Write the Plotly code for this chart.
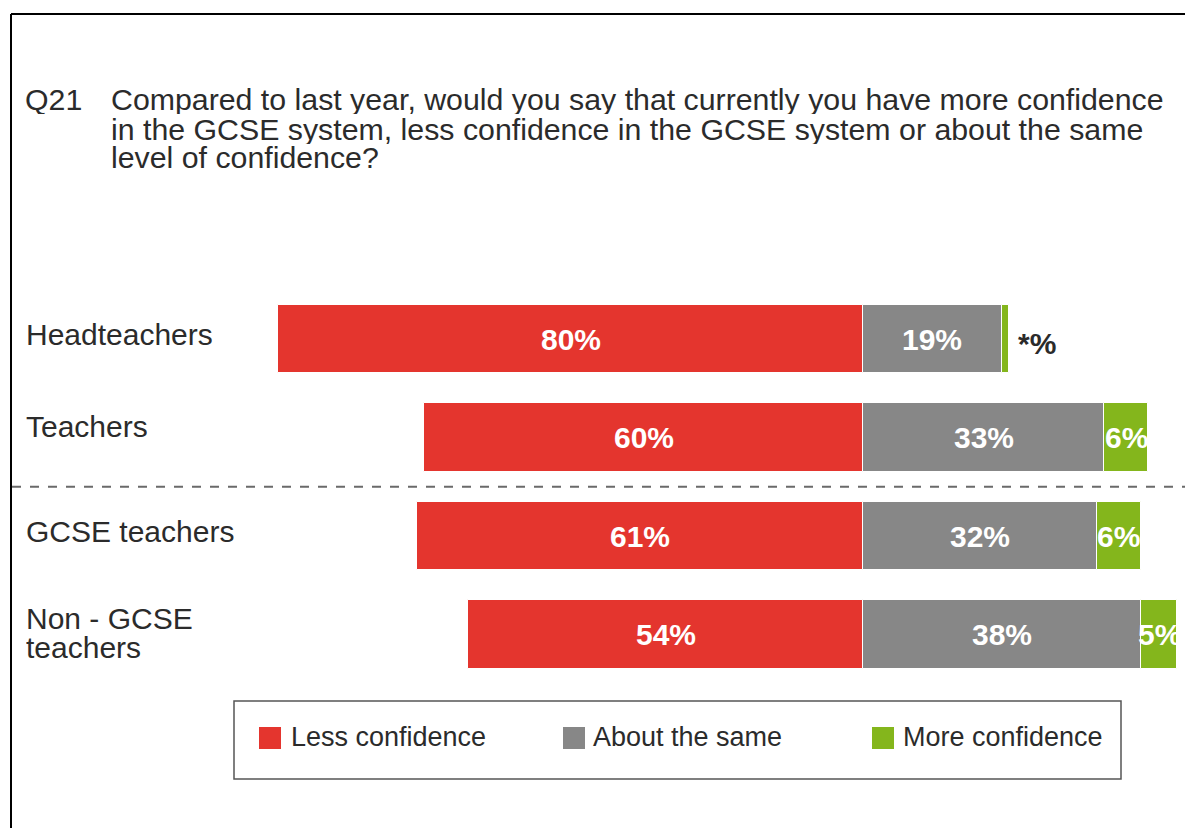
import plotly.graph_objects as go

# Survey groups (top to bottom) and response shares in percent
groups = ["Headteachers", "Teachers", "GCSE teachers", "Non - GCSE teachers"]
less_confidence = [80, 60, 61, 54]
about_same = [19, 33, 32, 38]
more_confidence = [1, 6, 6, 5]
more_labels = ["*%", "6%", "6%", "5%"]

series_names = ["Less confidence", "About the same", "More confidence"]
colors = ["#E4352E", "#878787", "#84B61C"]

FONT = "Liberation Sans, Arial, sans-serif"
TEXT = "#2b2b2b"
W, H = 1185, 828

ypos = list(range(len(groups)))

fig = go.Figure()
fig.add_trace(go.Bar(y=ypos, x=[-v for v in less_confidence], orientation="h",
                     name=series_names[0], marker=dict(color=colors[0], line=dict(color="white", width=1)),
                     width=0.70, showlegend=False, hoverinfo="skip"))
fig.add_trace(go.Bar(y=ypos, x=about_same, orientation="h",
                     name=series_names[1], marker=dict(color=colors[1], line=dict(color="white", width=1)),
                     width=0.70, showlegend=False, hoverinfo="skip"))
fig.add_trace(go.Bar(y=ypos, x=more_confidence, orientation="h",
                     name=series_names[2], marker=dict(color=colors[2], line=dict(color="white", width=1)),
                     width=0.70, showlegend=False, hoverinfo="skip"))

ann = []
# value labels centred in each segment
for i in ypos:
    l, a, m = less_confidence[i], about_same[i], more_confidence[i]
    ann.append(dict(x=-l / 2, y=i, xref="x", yref="y", text=f"<b>{l}%</b>", showarrow=False,
                    font=dict(family=FONT, size=30, color="white")))
    ann.append(dict(x=a / 2, y=i, xref="x", yref="y", text=f"<b>{a}%</b>", showarrow=False,
                    font=dict(family=FONT, size=30, color="white")))
    if more_labels[i].startswith("*"):
        ann.append(dict(x=a + m, y=i, xref="x", yref="y", text=f"<b>{more_labels[i]}</b>", showarrow=False,
                        xanchor="left", xshift=7, yshift=-4,
                        font=dict(family=FONT, size=30, color=TEXT)))
    else:
        ann.append(dict(x=a + m / 2, y=i, xref="x", yref="y", text=f"<b>{more_labels[i]}</b>",
                        showarrow=False, font=dict(family=FONT, size=30, color="white")))

# group labels on the left (the last one wraps onto two tight lines)
label_lines = [[("Headteachers", 5)], [("Teachers", 11)], [("GCSE teachers", 5)],
               [("Non - GCSE", 16), ("teachers", -13)]]
for i, lines in enumerate(label_lines):
    for txt, dy in lines:
        ann.append(dict(x=24 / W, y=i, xref="paper", yref="y", text=txt, showarrow=False,
                        xanchor="left", yshift=dy, height=29, valign="middle",
                        font=dict(family=FONT, size=30, color=TEXT)))

# question text
ann.append(dict(x=23 / W, y=1 - 100 / H, xref="paper", yref="paper", text="Q21", showarrow=False,
                xanchor="left", yanchor="middle", height=29,
                font=dict(family=FONT, size=30.3, color=TEXT)))
question = ["Compared to last year, would you say that currently you have more confidence",
            "in the GCSE system, less confidence in the GCSE system or about the same",
            "level of confidence?"]
for k, line in enumerate(question):
    ann.append(dict(x=109 / W, y=1 - (100 + 29 * k) / H, xref="paper", yref="paper", text=line,
                    showarrow=False, xanchor="left", yanchor="middle", height=29,
                    font=dict(family=FONT, size=30.3, color=TEXT)))

shapes = []
# outer frame (top and left edges)
shapes.append(dict(type="line", xref="paper", yref="paper", x0=11 / W, x1=1, y0=1 - 14 / H, y1=1 - 14 / H,
                   line=dict(color="black", width=2)))
shapes.append(dict(type="line", xref="paper", yref="paper", x0=11 / W, x1=11 / W, y0=1 - 14 / H, y1=0,
                   line=dict(color="black", width=2)))
# dashed separator between overall groups and GCSE split
shapes.append(dict(type="line", xref="paper", yref="y", x0=12 / W, x1=1, y0=1.5, y1=1.5,
                   line=dict(color="#6a6a6a", width=2, dash="dash")))

# legend box
shapes.append(dict(type="rect", xref="paper", yref="paper", x0=234 / W, x1=1121 / W,
                   y0=1 - 779 / H, y1=1 - 701 / H, line=dict(color="#555555", width=1.5),
                   fillcolor="white"))
legend_x = [(259, 289), (563, 591), (872, 901)]
for (sx, tx), name, c in zip(legend_x, series_names, colors):
    shapes.append(dict(type="rect", xref="paper", yref="paper", x0=sx / W, x1=(sx + 22) / W,
                       y0=1 - 749 / H, y1=1 - 727 / H, line=dict(width=0), fillcolor=c))
    ann.append(dict(x=tx / W, y=1 - 737 / H, xref="paper", yref="paper", text=name, showarrow=False,
                    xanchor="left", yanchor="middle", font=dict(family=FONT, size=27, color=TEXT)))

px_per_pct = 7.31
zero_px = 863
row0_px, row_step = 339, 98.5

fig.update_layout(
    width=W, height=H, margin=dict(l=0, r=0, t=0, b=0),
    paper_bgcolor="white", plot_bgcolor="white",
    barmode="relative", bargap=0,
    xaxis=dict(visible=False, range=[-zero_px / px_per_pct, (W - zero_px) / px_per_pct], fixedrange=True),
    yaxis=dict(visible=False, range=[(H - row0_px) / row_step, -row0_px / row_step], fixedrange=True),
    annotations=ann, shapes=shapes, showlegend=False,
)

fig.write_html("out.html")
